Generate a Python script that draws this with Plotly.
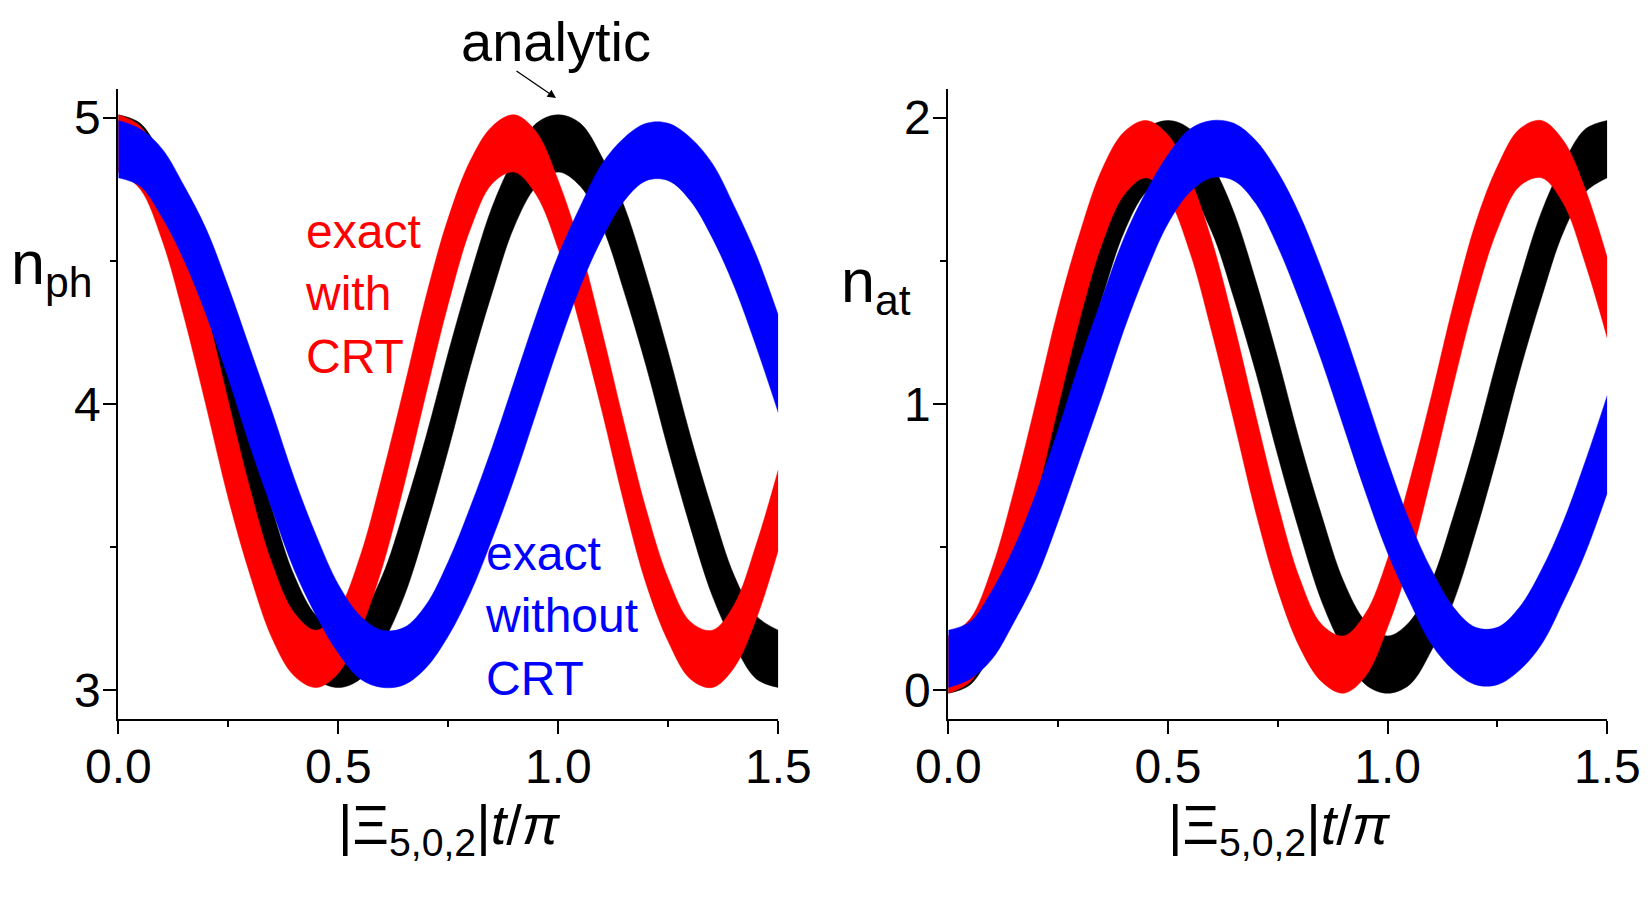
import plotly.graph_objects as go

# ---------------- data ----------------
t = [0.00, 0.05, 0.10, 0.15, 0.20, 0.25, 0.30, 0.35, 0.40, 0.45,
     0.50, 0.55, 0.60, 0.65, 0.70, 0.75, 0.80, 0.85, 0.90, 0.95,
     1.00, 1.05, 1.10, 1.15, 1.20, 1.25, 1.30, 1.35, 1.40, 1.45, 1.50]

# centre of each fast-oscillating band, photon number
nph_analytic = [4.91, 4.87, 4.74, 4.54, 4.29, 4.01, 3.73, 3.48, 3.28, 3.15,
                3.11, 3.15, 3.28, 3.48, 3.73, 4.01, 4.29, 4.54, 4.74, 4.87,
                4.91, 4.87, 4.74, 4.54, 4.29, 4.01, 3.73, 3.48, 3.28, 3.15, 3.11]
nph_with_crt = [4.91, 4.86, 4.70, 4.45, 4.16, 3.84, 3.55, 3.31, 3.16, 3.11,
                3.17, 3.34, 3.59, 3.89, 4.21, 4.50, 4.73, 4.87, 4.91, 4.84,
                4.66, 4.41, 4.11, 3.79, 3.50, 3.28, 3.14, 3.11, 3.19, 3.38, 3.63]
nph_without_crt = [4.89, 4.86, 4.77, 4.63, 4.46, 4.25, 4.02, 3.80, 3.58, 3.40,
                   3.25, 3.15, 3.11, 3.12, 3.19, 3.32, 3.49, 3.69, 3.91, 4.14,
                   4.36, 4.55, 4.71, 4.82, 4.88, 4.88, 4.82, 4.71, 4.55, 4.36, 4.14]

# centre of each band, atomic excitation number
nat_analytic = [0.09, 0.13, 0.26, 0.46, 0.71, 0.99, 1.27, 1.52, 1.72, 1.85,
                1.89, 1.85, 1.72, 1.52, 1.27, 0.99, 0.71, 0.46, 0.26, 0.13,
                0.09, 0.13, 0.26, 0.46, 0.71, 0.99, 1.27, 1.52, 1.72, 1.85, 1.89]
nat_with_crt = [0.09, 0.14, 0.30, 0.55, 0.84, 1.16, 1.45, 1.69, 1.84, 1.89,
                1.83, 1.66, 1.41, 1.11, 0.79, 0.50, 0.27, 0.13, 0.09, 0.16,
                0.34, 0.59, 0.89, 1.21, 1.50, 1.72, 1.86, 1.89, 1.81, 1.62, 1.37]
nat_without_crt = [0.11, 0.14, 0.23, 0.37, 0.54, 0.75, 0.98, 1.20, 1.42, 1.60,
                   1.75, 1.85, 1.89, 1.88, 1.81, 1.68, 1.51, 1.31, 1.09, 0.86,
                   0.64, 0.45, 0.29, 0.18, 0.12, 0.12, 0.18, 0.29, 0.45, 0.64, 0.86]

# half-width of each band (amplitude of the fast oscillation)
half_analytic = [0.10, 0.11, 0.12, 0.15, 0.16, 0.17, 0.16, 0.15, 0.12, 0.11,
                 0.10, 0.11, 0.12, 0.15, 0.16, 0.17, 0.16, 0.15, 0.12, 0.11,
                 0.10, 0.11, 0.12, 0.15, 0.16, 0.17, 0.16, 0.15, 0.12, 0.11, 0.10]
half_with_crt = [0.10, 0.11, 0.13, 0.15, 0.17, 0.17, 0.15, 0.13, 0.11, 0.10,
                 0.11, 0.13, 0.16, 0.17, 0.17, 0.15, 0.12, 0.10, 0.10, 0.11,
                 0.12, 0.14, 0.14, 0.14, 0.13, 0.11, 0.10, 0.10, 0.11, 0.13, 0.14]
half_without_crt = [0.10, 0.10, 0.12, 0.13, 0.15, 0.16, 0.17, 0.17, 0.16, 0.14,
                    0.12, 0.11, 0.10, 0.10, 0.11, 0.13, 0.15, 0.16, 0.17, 0.17,
                    0.16, 0.14, 0.13, 0.11, 0.10, 0.10, 0.11, 0.13, 0.14, 0.16, 0.17]

series_names = ["analytic", "exact with CRT", "exact without CRT"]
series_colors = ["#000000", "#FF0000", "#0000FF"]

x_ticks = [0.0, 0.5, 1.0, 1.5]
x_tick_text = ["0.0", "0.5", "1.0", "1.5"]
nph_ticks = [3, 4, 5]
nat_ticks = [0, 1, 2]

# ---------------- figure ----------------
FONT = "Liberation Sans, Arial, Helvetica, sans-serif"
fig = go.Figure()


def add_band(centre, half, color, name, xa, ya):
    lower = [c - h for c, h in zip(centre, half)]
    upper = [c + h for c, h in zip(centre, half)]
    fig.add_trace(go.Scatter(x=t, y=lower, mode="lines", xaxis=xa, yaxis=ya,
                             line=dict(color=color, width=0.5, shape="spline"),
                             hoverinfo="skip", showlegend=False, name=name))
    fig.add_trace(go.Scatter(x=t, y=upper, mode="lines", xaxis=xa, yaxis=ya,
                             fill="tonexty", fillcolor=color,
                             line=dict(color=color, width=0.5, shape="spline"),
                             showlegend=False, name=name))


halves = [half_analytic, half_with_crt, half_without_crt]
left = [nph_analytic, nph_with_crt, nph_without_crt]
right = [nat_analytic, nat_with_crt, nat_without_crt]
for i in range(3):
    add_band(left[i], halves[i], series_colors[i], series_names[i], "x", "y")
for i in range(3):
    add_band(right[i], halves[i], series_colors[i], series_names[i], "x2", "y2")

W, H = 1650, 900
ax_common = dict(showline=True, linecolor="black", linewidth=2, mirror=False,
                 showgrid=False, zeroline=False, ticks="outside", ticklen=13,
                 tickwidth=2, tickcolor="black", automargin=False,
                 tickfont=dict(family=FONT, size=48, color="black"))

xdom1 = [118.3 / W, 778.3 / W]
xdom2 = [948.3 / W, 1607.3 / W]
ydom = [1 - 719.0 / H, 1 - 89.0 / H]
minor_x = dict(dtick=0.25, tick0=0, ticks="outside", ticklen=6, tickwidth=2,
               tickcolor="black")

fig.update_layout(
    width=W, height=H,
    margin=dict(l=0, r=0, t=0, b=0, pad=0, autoexpand=False),
    paper_bgcolor="white", plot_bgcolor="white", showlegend=False,
    xaxis=dict(domain=xdom1, range=[0, 1.5], anchor="y", tickvals=x_ticks,
               ticktext=x_tick_text, ticklabelstandoff=-9, minor=minor_x,
               **ax_common),
    yaxis=dict(domain=ydom, range=[2.9, 5.1], anchor="x", tickvals=nph_ticks,
               ticklabelstandoff=-7,
               minor=dict(dtick=0.5, tick0=3, ticks="outside", ticklen=6,
                          tickwidth=2, tickcolor="black"), **ax_common),
    xaxis2=dict(domain=xdom2, range=[0, 1.5], anchor="y2", tickvals=x_ticks,
                ticktext=x_tick_text, ticklabelstandoff=-9, minor=minor_x,
                **ax_common),
    yaxis2=dict(domain=ydom, range=[-0.1, 2.1], anchor="x2", tickvals=nat_ticks,
                ticklabelstandoff=-7,
                minor=dict(dtick=0.5, tick0=0, ticks="outside", ticklen=6,
                           tickwidth=2, tickcolor="black"), **ax_common),
)


def px(xp):
    return xp / W


def py(yp):
    return 1 - yp / H


ann = []
xtitle = "|Ξ<sub>5,0,2</sub>|<i>t</i>/<i>π</i>"
for cx in [450, 1279]:
    ann.append(dict(x=px(cx), y=py(828), xref="paper", yref="paper",
                    text=xtitle, showarrow=False, xanchor="center", yanchor="middle",
                    font=dict(family=FONT, size=56, color="black")))
ann.append(dict(x=px(9), y=py(268), xref="paper", yref="paper",
                text="n<sub>ph</sub>", showarrow=False, xanchor="left", yanchor="middle",
                font=dict(family=FONT, size=61, color="black")))
ann.append(dict(x=px(839), y=py(286), xref="paper", yref="paper",
                text="n<sub>at</sub>", showarrow=False, xanchor="left", yanchor="middle",
                font=dict(family=FONT, size=61, color="black")))
ann.append(dict(x=px(556), y=py(42), xref="paper", yref="paper",
                text="analytic", showarrow=False, xanchor="center", yanchor="middle",
                font=dict(family=FONT, size=56, color="black")))
ann.append(dict(x=px(303), y=py(294), xref="paper", yref="paper",
                text="exact<br>with<br>CRT", showarrow=False, xanchor="left",
                yanchor="middle", align="left",
                font=dict(family=FONT, size=48, color="#FF0000")))
ann.append(dict(x=px(483), y=py(616), xref="paper", yref="paper",
                text="exact<br>without<br>CRT", showarrow=False, xanchor="left",
                yanchor="middle", align="left",
                font=dict(family=FONT, size=48, color="#0000FF")))
# arrow pointing at the analytic curve
ann.append(dict(x=px(556), y=py(98), xref="paper", yref="paper",
                ax=515 - 556, ay=70 - 98, axref="pixel", ayref="pixel",
                text="", showarrow=True, arrowhead=2, arrowsize=1.3,
                arrowwidth=1.3, arrowcolor="black"))
fig.update_layout(annotations=ann)

fig.write_html("out.html")
